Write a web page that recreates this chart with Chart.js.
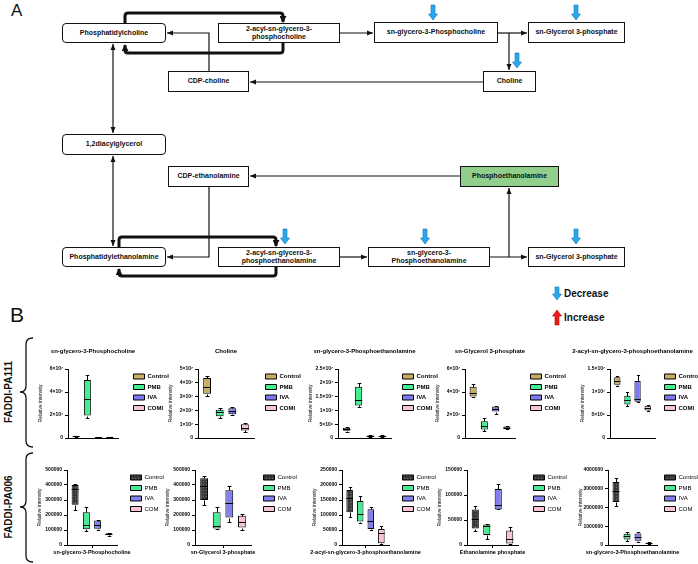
<!DOCTYPE html>
<html lang="en">
<head>
  <meta charset="UTF-8" />
  <title>Glycerophospholipid metabolism</title>
  <script src="https://cdn.jsdelivr.net/npm/chart.js"></script>
  <style>
    html, body { margin: 0; padding: 0; background: #fff; overflow: hidden; }
    #page { position: relative; width: 698px; height: 564px; font-family: "Liberation Sans", Arial, sans-serif; color: #111; }
    .node { position: absolute; box-sizing: border-box; border: 1.5px solid #111; background: #fff;
            display: flex; align-items: center; justify-content: center; text-align: center;
            font-size: 7px; font-weight: bold; line-height: 8.5px; }
    .round { border-radius: 4px; }
    .lbl { position: absolute; white-space: nowrap; }
    .strain { position: absolute; font-size: 10px; font-weight: bold; white-space: nowrap;
              transform: translate(-50%, -50%) rotate(-90deg); }
    canvas { position: absolute; }
    svg { position: absolute; left: 0; top: 0; }
  </style>
</head>

<body>
<div id="page">

  <!-- Panel A: pathway -->
  <div class="lbl" style="left:11px; top:1px; font-size:17px;">A</div>

  <div class="node round" style="left:62px; top:23px; width:104px; height:20px;">Phosphatidylcholine</div>
  <div class="node" style="left:218px; top:23px; width:122px; height:20px;">2-acyl-sn-glycero-3-<br>phosphocholine</div>
  <div class="node" style="left:374px; top:22px; width:124px; height:21px;">sn-glycero-3-Phosphocholine</div>
  <div class="node" style="left:528px; top:22px; width:97px; height:21px;">sn-Glycerol 3-phosphate</div>
  <div class="node" style="left:168px; top:71px; width:81px; height:21px;">CDP-choline</div>
  <div class="node" style="left:483px; top:71px; width:53px; height:21px;">Choline</div>
  <div class="node round" style="left:62px; top:134px; width:104px; height:21px;">1,2diacylglycerol</div>
  <div class="node" style="left:168px; top:166px; width:81px; height:21px;">CDP-ethanolamine</div>
  <div class="node" style="left:460px; top:166px; width:99px; height:21px; background:#90cf8c;">Phosphoethanolamine</div>
  <div class="node round" style="left:62px; top:247px; width:104px; height:20px;">Phosphatidylethanolamine</div>
  <div class="node" style="left:218px; top:247px; width:122px; height:20px;">2-acyl-sn-glycero-3-<br>phosphoethanolamine</div>
  <div class="node" style="left:368px; top:247px; width:122px; height:20px;">sn-glycero-3-<br>Phosphoethanolamine</div>
  <div class="node" style="left:528px; top:247px; width:97px; height:20px;">sn-Glycerol 3-phosphate</div>

  <div class="lbl" style="left:564px; top:288px; font-size:10px; font-weight:bold;">Decrease</div>
  <div class="lbl" style="left:564px; top:312px; font-size:10px; font-weight:bold;">Increase</div>

  <!-- Panel B labels -->
  <div class="lbl" style="left:10px; top:303px; font-size:21px;">B</div>
  <div class="strain" style="left:8px; top:392px;">FADDI-PA111</div>
  <div class="strain" style="left:8px; top:507px;">FADDI-PA006</div>

  <svg id="lines" width="698" height="564">
    <defs>
      <marker id="ah" markerUnits="userSpaceOnUse" markerWidth="6" markerHeight="6" viewBox="0 0 6 6"
              refX="6" refY="3" orient="auto-start-reverse">
        <path d="M0,0.5 L6,3 L0,5.5 z" fill="#111" />
      </marker>
      <marker id="ahb" markerUnits="userSpaceOnUse" markerWidth="7" markerHeight="7" viewBox="0 0 8 8"
              refX="7" refY="4" orient="auto">
        <path d="M0,0 L8,4 L0,8 z" fill="#111" />
      </marker>
    </defs>
    <g fill="none" stroke="#111" stroke-width="1.2">
      <path d="M340,33 H373" marker-end="url(#ah)" />
      <path d="M498,33 H527" marker-end="url(#ah)" />
      <path d="M509,33 V70" marker-end="url(#ah)" />
      <path d="M483,82 H250" marker-end="url(#ah)" />
      <path d="M209,71 V33 H167" marker-end="url(#ah)" />
      <path d="M113,44 V133" marker-start="url(#ah)" marker-end="url(#ah)" />
      <path d="M113,156 V246" marker-start="url(#ah)" marker-end="url(#ah)" />
      <path d="M460,176 H250" marker-end="url(#ah)" />
      <path d="M209,187 V257 H167" marker-end="url(#ah)" />
      <path d="M340,257 H367" marker-end="url(#ah)" />
      <path d="M490,257 H527" marker-end="url(#ah)" />
      <path d="M509,257 V188" marker-end="url(#ah)" />
      <path d="M33,338 Q26,338 26,344 V386 Q26,392 20,392 Q26,392 26,398 V441 Q26,447 33,447" stroke-width="1.3" />
      <path d="M33,453 Q26,453 26,459 V501 Q26,507 20,507 Q26,507 26,513 V556 Q26,562 33,562" stroke-width="1.3" />
    </g>
    <g fill="none" stroke="#111" stroke-width="3" stroke-linejoin="round">
      <path d="M125,23 V16 Q125,13 128,13 H280 Q283,13 283,16 V22" marker-end="url(#ahb)" />
      <path d="M283,43 V50 Q283,53 280,53 H128 Q125,53 125,50 V45" marker-end="url(#ahb)" />
      <path d="M119,247 V240 Q119,237 122,237 H273 Q276,237 276,240 V246" marker-end="url(#ahb)" />
      <path d="M276,267 V273 Q276,276 273,276 H122 Q119,276 119,273 V269" marker-end="url(#ahb)" />
    </g>
    <g id="marks"></g>
  </svg>

</div>

<script>
  // groups in each strain
  const groupsPA111 = ["Control", "PMB", "IVA", "COMI"];
  const groupsPA006 = ["Control", "PMB", "IVA", "COM"];

  const metabolitesPA111 = ["sn-glycero-3-Phosphocholine", "Choline", "sn-glycero-3-Phosphoethanolamine",
                            "sn-Glycerol 3-phosphate", "2-acyl-sn-glycero-3-phosphoethanolamine"];
  const metabolitesPA006 = ["sn-glycero-3-Phosphocholine", "sn-Glycerol 3-phosphate",
                            "2-acyl-sn-glycero-3-phosphoethanolamine", "Ethanolamine phosphate",
                            "sn-glycero-3-Phosphoethanolamine"];

  // box stats per group: [min, q1, median, q3, max]
  const gpcPA111 = [[1.0e6, 1.3e6, 1.6e6, 1.9e6, 2.1e6], [1.7e7, 1.95e7, 3.35e7, 5.05e7, 5.45e7],
                    [0.3e6, 0.5e6, 0.7e6, 0.9e6, 1.1e6], [0.4e6, 0.6e6, 0.8e6, 1.0e6, 1.2e6]];
  const cholinePA111 = [[3.05e7, 3.2e7, 3.7e7, 4.35e7, 4.5e7], [1.45e7, 1.57e7, 1.85e7, 2.05e7, 2.2e7],
                        [1.65e7, 1.72e7, 1.93e7, 2.15e7, 2.25e7], [0.45e7, 0.55e7, 0.75e7, 1.0e7, 1.1e7]];
  const gpePA111 = [[2.2e6, 2.6e6, 3.1e6, 3.7e6, 4.0e6], [1.12e7, 1.18e7, 1.36e7, 1.86e7, 1.98e7],
                    [0.3e6, 0.5e6, 0.7e6, 0.9e6, 1.1e6], [0.2e6, 0.4e6, 0.6e6, 0.8e6, 1.0e6]];
  const g3pPA111 = [[3.55e7, 3.6e7, 3.95e7, 4.45e7, 4.7e7], [0.6e7, 0.75e7, 1.05e7, 1.45e7, 1.7e7],
                    [2.1e7, 2.3e7, 2.55e7, 2.75e7, 2.75e7], [0.75e7, 0.8e7, 0.9e7, 1.0e7, 1.05e7]];
  const acylPePA111 = [[1.13e7, 1.16e7, 1.24e7, 1.32e7, 1.35e7], [0.7e7, 0.73e7, 0.82e7, 0.92e7, 0.99e7],
                       [0.78e7, 0.79e7, 0.84e7, 1.24e7, 1.37e7], [0.58e7, 0.6e7, 0.65e7, 0.7e7, 0.72e7]];

  const gpcPA006 = [[235000, 268000, 372000, 400000, 405000], [95000, 105000, 135000, 218000, 255000],
                    [103000, 108000, 133000, 163000, 168000], [62000, 65000, 72000, 79000, 82000]];
  const g3pPA006 = [[268000, 300000, 393000, 445000, 458000], [105000, 110000, 130000, 218000, 252000],
                    [152000, 183000, 283000, 365000, 393000], [100000, 116000, 155000, 195000, 204000]];
  const acylPePA006 = [[94000, 109000, 158000, 183000, 192000], [73000, 78000, 102000, 147000, 162000],
                       [49000, 53000, 80000, 119000, 128000], [2000, 6000, 39000, 53000, 63000]];
  const etnPPA006 = [[28000, 33000, 52000, 71000, 78000], [13000, 20000, 39000, 41000, 43000],
                     [71000, 71000, 81000, 112000, 123000], [2000, 3000, 13000, 29000, 37000]];
  const gpePA006 = [[2.09e6, 2.29e6, 2.86e6, 3.36e6, 3.57e6], [0.21e6, 0.3e6, 0.48e6, 0.6e6, 0.68e6],
                    [0.14e6, 0.23e6, 0.43e6, 0.62e6, 0.68e6], [0.06e6, 0.08e6, 0.1e6, 0.12e6, 0.14e6]];

  // y tick values
  const ticksGpcPA111 = [0, 2e7, 4e7, 6e7];
  const ticksCholinePA111 = [0, 1e7, 2e7, 3e7, 4e7, 5e7];
  const ticksGpePA111 = [0, 5e6, 1e7, 1.5e7, 2e7, 2.5e7];
  const ticksG3pPA111 = [0, 2e7, 4e7, 6e7];
  const ticksAcylPePA111 = [0, 5e6, 1e7, 1.5e7];
  const ticksGpcPA006 = [0, 100000, 200000, 300000, 400000, 500000];
  const ticksG3pPA006 = [0, 100000, 200000, 300000, 400000, 500000];
  const ticksAcylPePA006 = [0, 50000, 100000, 150000, 200000, 250000];
  const ticksEtnPPA006 = [0, 50000, 100000, 150000];
  const ticksGpePA006 = [0, 1000000, 2000000, 3000000, 4000000];

  const FONT = '"Liberation Sans", Arial, sans-serif';
  Chart.defaults.font.family = FONT;
  Chart.defaults.color = "#000";

  // blue decrease / red increase arrows on the pathway
  const svgNS = "http://www.w3.org/2000/svg";
  function blockArrow(cx, t, b, up) {
    const pts = up
      ? [[cx, t], [cx + 4.5, t + 6], [cx + 2, t + 6], [cx + 2, b], [cx - 2, b], [cx - 2, t + 6], [cx - 4.5, t + 6]]
      : [[cx - 2, t], [cx + 2, t], [cx + 2, b - 6], [cx + 4.5, b - 6], [cx, b], [cx - 4.5, b - 6], [cx - 2, b - 6]];
    const p = document.createElementNS(svgNS, "polygon");
    p.setAttribute("points", pts.map(q => q.join(",")).join(" "));
    p.setAttribute("fill", up ? "#f01a1a" : "#2aa8ee");
    p.setAttribute("stroke", up ? "#b00" : "#0d70b8");
    p.setAttribute("stroke-width", "0.6");
    document.getElementById("marks").appendChild(p);
  }
  [[433, 5, 20], [576, 5, 20], [517, 53, 68], [285, 229, 244], [425, 229, 244], [576, 229, 244], [557, 287, 300]]
    .forEach(a => blockArrow(a[0], a[1], a[2], false));
  blockArrow(557, 310, 325, true);

  // box-plot whiskers and medians on top of floating bars
  const boxWhiskers = {
    id: "boxWhiskers",
    afterDatasetsDraw(chart) {
      const ctx = chart.ctx, y = chart.scales.y;
      const py = v => Math.round(y.getPixelForValue(v)) + 0.5;
      ctx.save();
      ctx.strokeStyle = "#000";
      ctx.lineWidth = 1;
      chart.data.datasets.forEach((ds, i) => {
        const el = chart.getDatasetMeta(i).data[0];
        const [mn, q1, md, q3, mx] = ds.stats;
        const x = Math.round(el.x) + 0.5, hw = el.width / 2, cap = el.width / 4;
        ctx.beginPath();
        ctx.moveTo(x, py(q3)); ctx.lineTo(x, py(mx));
        ctx.moveTo(x - cap, py(mx)); ctx.lineTo(x + cap, py(mx));
        ctx.moveTo(x, py(q1)); ctx.lineTo(x, py(mn));
        ctx.moveTo(x - cap, py(mn)); ctx.lineTo(x + cap, py(mn));
        ctx.moveTo(el.x - hw, py(md)); ctx.lineTo(el.x + hw, py(md));
        ctx.stroke();
      });
      ctx.restore();
    }
  };

  // title centred over the plot area
  const panelTitle = {
    id: "panelTitle",
    afterDraw(chart, args, opts) {
      if (!opts.text) return;
      const a = chart.chartArea, ctx = chart.ctx;
      ctx.save();
      ctx.font = "bold 6px " + FONT;
      ctx.fillStyle = "#000";
      ctx.textAlign = "center";
      ctx.textBaseline = "middle";
      ctx.fillText(opts.text, (a.left + a.right) / 2, opts.y);
      ctx.restore();
    }
  };

  const SUP = "⁰¹²³⁴⁵⁶⁷⁸⁹";
  function sci(v) {
    if (v === 0) return "0";
    const e = Math.floor(Math.log10(v) + 1e-9);
    const m = +(v / Math.pow(10, e)).toFixed(2);
    return m + "×10" + String(e).split("").map(d => SUP[+d]).join("");
  }

  function dotPattern() {
    const c = document.createElement("canvas");
    c.width = 3; c.height = 3;
    const g = c.getContext("2d");
    g.fillStyle = "#383838"; g.fillRect(0, 0, 3, 3);
    g.fillStyle = "#707070"; g.fillRect(1, 1, 1, 1);
    return g.createPattern(c, "repeat");
  }

  const rowPA111 = {
    groups: groupsPA111, top: 342, height: 101, padTop: 27, xHeight: 4, showX: false,
    colors: ["#c8ad62", "#42ef8e", "#7c79f2", "#f6c4da"], legendWeight: "bold", legendSize: 6, fmt: sci
  };
  const rowPA006 = {
    groups: groupsPA006, top: 462, height: 97, padTop: 8, xHeight: 14, showX: true,
    colors: [dotPattern(), "#4aea94", "#8280f0", "#f8c2da"], legendWeight: "normal", legendSize: 6, fmt: v => String(v)
  };

  const PADL = 8;   // room left of the y axis for long titles

  function drawPanel(row, p) {
    const gap = p.legendX - p.axisX - p.plotW - 4;
    const cv = document.createElement("canvas");
    cv.width = PADL + 30 + p.plotW + gap + 40;
    cv.height = row.height;
    cv.style.left = (p.axisX - 30 - PADL) + "px";
    cv.style.top = row.top + "px";
    document.getElementById("page").appendChild(cv);

    new Chart(cv, {
      type: "bar",
      data: {
        labels: [row.showX ? p.name : ""],
        datasets: row.groups.map((g, i) => ({
          label: g,
          data: [[p.stats[i][1], p.stats[i][3]]],
          stats: p.stats[i],
          yAxisID: "y",
          backgroundColor: row.colors[i],
          borderColor: "#000",
          borderWidth: 1,
          borderSkipped: false,
          categoryPercentage: 0.9,
          barPercentage: 0.62
        }))
      },
      options: {
        responsive: false,
        animation: false,
        layout: { padding: { top: row.padTop, left: PADL, right: 0, bottom: 0 } },
        plugins: {
          legend: {
            position: "right", align: "start", maxWidth: 40,
            labels: { boxWidth: 11, boxHeight: 5, padding: 4.5, font: { size: row.legendSize, weight: row.legendWeight } }
          },
          tooltip: { enabled: false },
          panelTitle: { text: row.showX ? "" : p.name, y: 9 }
        },
        scales: {
          x: {
            ticks: { display: row.showX, font: { size: 5.5, weight: "bold" }, maxRotation: 0, minRotation: 0, autoSkip: false, padding: 1 },
            grid: { display: row.showX, drawOnChartArea: false, drawTicks: true, tickLength: 3, offset: false, color: "#000" },
            border: { display: true, color: "#000", width: 1 },
            afterFit: s => { s.height = row.xHeight; s.paddingLeft = 0; s.paddingRight = 0; }
          },
          y: {
            min: 0,
            max: p.ticks[p.ticks.length - 1],
            afterBuildTicks: s => { s.ticks = p.ticks.map(v => ({ value: v })); },
            ticks: { font: { size: 5, weight: "bold" }, padding: 2, callback: v => row.fmt(v) },
            grid: { display: true, drawOnChartArea: false, drawTicks: true, tickLength: 3, color: "#000" },
            border: { display: true, color: "#000", width: 1 },
            title: { display: true, text: "Relative intensity", font: { size: 5 }, padding: 0 },
            afterFit: s => { s.width = 30; }
          },
          gap: {
            position: "right",
            grid: { display: false }, border: { display: false }, ticks: { display: false },
            afterFit: s => { s.width = gap; }
          }
        }
      },
      plugins: [boxWhiskers, panelTitle]
    });
  }

  // top row: FADDI-PA111
  drawPanel(rowPA111, { name: metabolitesPA111[0], stats: gpcPA111, ticks: ticksGpcPA111, axisX: 68, plotW: 50, legendX: 133 });
  drawPanel(rowPA111, { name: metabolitesPA111[1], stats: cholinePA111, ticks: ticksCholinePA111, axisX: 198, plotW: 56, legendX: 265 });
  drawPanel(rowPA111, { name: metabolitesPA111[2], stats: gpePA111, ticks: ticksGpePA111, axisX: 338, plotW: 53, legendX: 402 });
  drawPanel(rowPA111, { name: metabolitesPA111[3], stats: g3pPA111, ticks: ticksG3pPA111, axisX: 465, plotW: 50, legendX: 530 });
  drawPanel(rowPA111, { name: metabolitesPA111[4], stats: acylPePA111, ticks: ticksAcylPePA111, axisX: 610, plotW: 45, legendX: 664 });

  // bottom row: FADDI-PA006
  drawPanel(rowPA006, { name: metabolitesPA006[0], stats: gpcPA006, ticks: ticksGpcPA006, axisX: 67, plotW: 50, legendX: 130 });
  drawPanel(rowPA006, { name: metabolitesPA006[1], stats: g3pPA006, ticks: ticksG3pPA006, axisX: 195, plotW: 56, legendX: 263 });
  drawPanel(rowPA006, { name: metabolitesPA006[2], stats: acylPePA006, ticks: ticksAcylPePA006, axisX: 342, plotW: 47, legendX: 402 });
  drawPanel(rowPA006, { name: metabolitesPA006[3], stats: etnPPA006, ticks: ticksEtnPPA006, axisX: 467, plotW: 51, legendX: 533 });
  drawPanel(rowPA006, { name: metabolitesPA006[4], stats: gpePA006, ticks: ticksGpePA006, axisX: 608, plotW: 49, legendX: 664 });
</script>
</body>
</html>
